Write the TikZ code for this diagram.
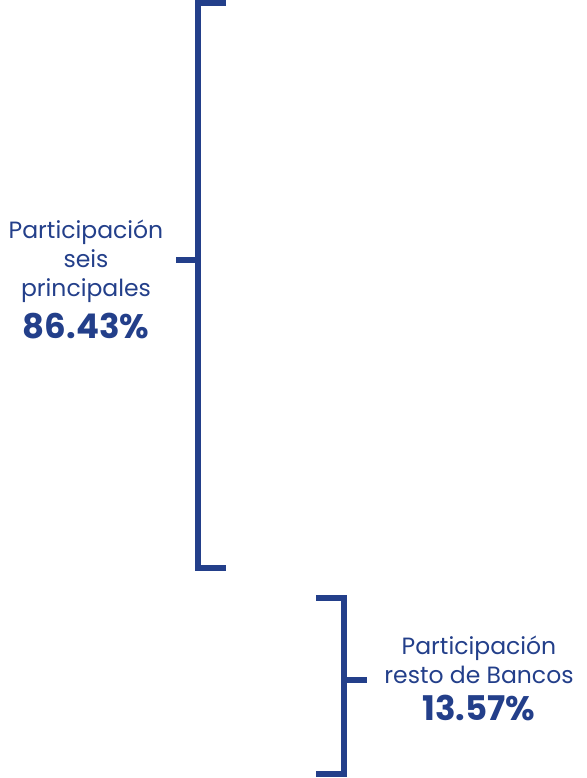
\documentclass[tikz,border=0pt]{standalone}
\usepackage{fontspec}
\setmainfont{Poppins}
\usetikzlibrary{positioning}
\definecolor{azulbanco}{HTML}{233F8A}

\begin{document}
\begin{tikzpicture}[x=1pt,y=-1pt,
  llave/.style={draw=azulbanco,line width=5.5pt},
  rotulo/.style={text=azulbanco,align=center,inner sep=0pt,
    font=\fontsize{23.5}{29}\selectfont},
  cifra/.style={text=azulbanco,inner sep=0pt,
    font=\fontsize{34}{34}\selectfont\bfseries}]
\useasboundingbox (0,0) rectangle (586,778);
% Llave de los seis principales
\draw[llave] (226,3) -- (198,3) -- (198,568) -- (226,568);
\coordinate (puntaseis) at (176,260);
\draw[llave] (puntaseis) -- (198,260);
% Llave del resto de bancos
\draw[llave] (316,598) -- (344,598) -- (344,774) -- (316,774);
\coordinate (puntaresto) at (367,680);
\draw[llave] (344,680) -- (puntaresto);
% Textos
\node[rotulo] (seis) at (86,261) {Participación\\seis\\principales};
\node[cifra,below=10pt of seis] (seispct) {86.43\%};
\node[rotulo] (resto) at (479,660) {Participación\\resto de Bancos};
\node[cifra,below=11pt of resto] (restopct) {13.57\%};
\end{tikzpicture}
\end{document}
